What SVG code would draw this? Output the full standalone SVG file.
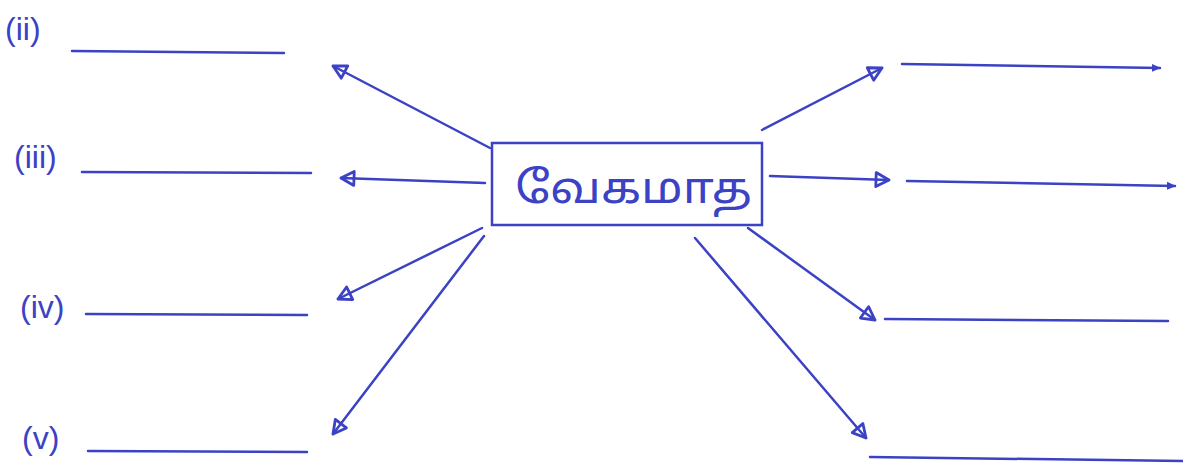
<svg xmlns="http://www.w3.org/2000/svg" width="1183" height="464" viewBox="0 0 1183 464">
<style>
.ln{stroke:#3b42c4;stroke-width:2.5;fill:none;stroke-linecap:round}
.lb{font-family:"Liberation Sans","DejaVu Sans",sans-serif;font-size:32px;fill:#3b42c4}
.bx{fill:none;stroke:#3b42c4;stroke-width:2.5}
.tx{font-family:"Noto Sans Tamil","Noto Sans","DejaVu Sans",sans-serif;font-size:44px;fill:#3b42c4}
</style>
<defs>
<marker id="ah" viewBox="0 0 18 18" refX="16" refY="9" markerWidth="18" markerHeight="18" markerUnits="userSpaceOnUse" orient="auto">
<path d="M3,2 L16,9 L3,16 Z" fill="none" stroke="#3b42c4" stroke-width="2.8" stroke-linejoin="round"/>
</marker>
<marker id="sh" viewBox="0 0 10 10" refX="8" refY="5" markerWidth="10" markerHeight="10" markerUnits="userSpaceOnUse" orient="auto">
<path d="M0,1 L9,5 L0,9 Z" fill="#3b42c4"/>
</marker>
</defs>
<rect width="1183" height="464" fill="#ffffff"/>
<g id="center">
<rect class="bx" x="492" y="143" width="270" height="82"/>
<text class="tx" x="515" y="203" textLength="237" lengthAdjust="spacingAndGlyphs">வேகமாத</text>
</g>
<g id="label-ii"><text class="lb" x="5" y="40">(ii)</text><line class="ln" x1="72" y1="51" x2="284" y2="53"/></g>
<g id="label-iii"><text class="lb" x="14" y="168">(iii)</text><line class="ln" x1="82" y1="172" x2="311" y2="173"/></g>
<g id="label-iv"><text class="lb" x="20" y="318">(iv)</text><line class="ln" x1="86" y1="314" x2="307" y2="315"/></g>
<g id="label-v"><text class="lb" x="22" y="449">(v)</text><line class="ln" x1="88" y1="451" x2="307" y2="452"/></g>
<g id="right-lines">
<line class="ln" x1="902" y1="64" x2="1160" y2="68" marker-end="url(#sh)"/>
<line class="ln" x1="907" y1="181" x2="1175" y2="186" marker-end="url(#sh)"/>
<line class="ln" x1="885" y1="319" x2="1168" y2="321"/>
<line class="ln" x1="870" y1="457" x2="1183" y2="461"/>
</g>
<g id="connectors">
<line class="ln" x1="490" y1="148" x2="333" y2="66" marker-end="url(#ah)"/>
<line class="ln" x1="485" y1="183" x2="341" y2="178" marker-end="url(#ah)"/>
<line class="ln" x1="482" y1="228" x2="338" y2="299" marker-end="url(#ah)"/>
<line class="ln" x1="484" y1="236" x2="333" y2="434" marker-end="url(#ah)"/>
<line class="ln" x1="762" y1="130" x2="882" y2="68" marker-end="url(#ah)"/>
<line class="ln" x1="770" y1="176" x2="889" y2="180" marker-end="url(#ah)"/>
<line class="ln" x1="748" y1="228" x2="875" y2="320" marker-end="url(#ah)"/>
<line class="ln" x1="695" y1="238" x2="866" y2="438" marker-end="url(#ah)"/>
</g>
</svg>
